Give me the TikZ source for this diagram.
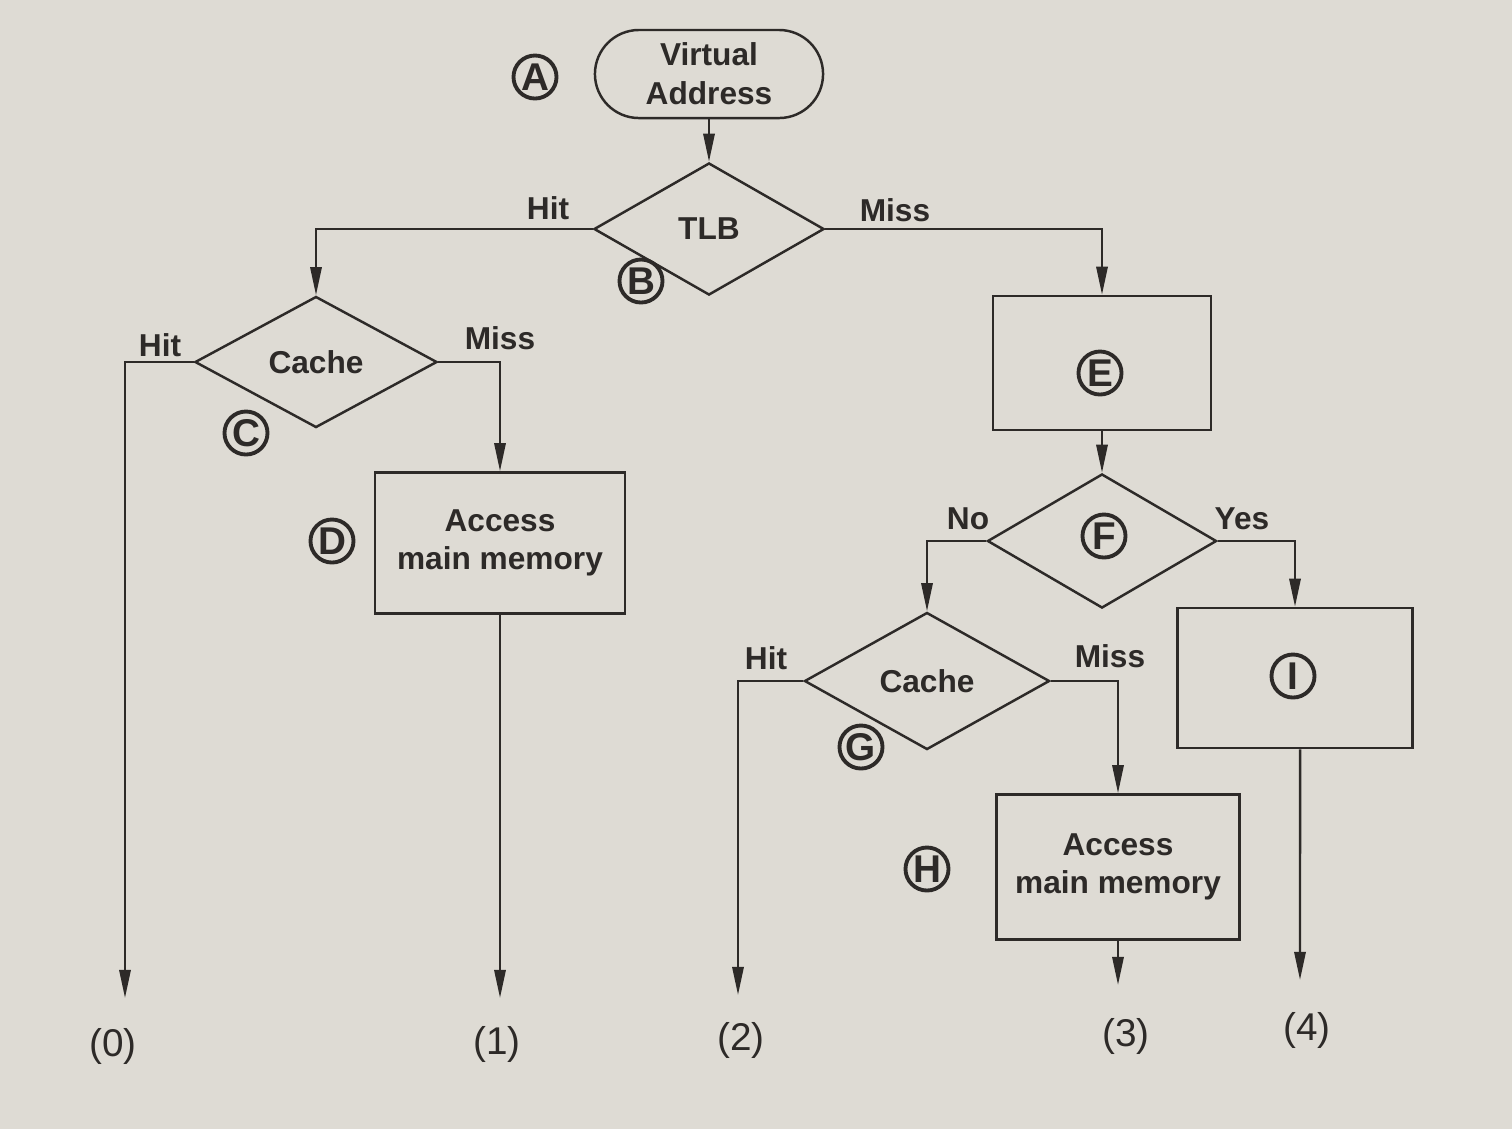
\documentclass[tikz,border=0pt]{standalone}
\usepackage{fontspec}
\setmainfont{Liberation Sans}
\usetikzlibrary{shapes.geometric,arrows.meta}
\definecolor{paper}{RGB}{222,219,212}
\definecolor{ink}{RGB}{45,42,40}
\begin{document}
\begin{tikzpicture}[x=0.01cm,y=-0.01cm,
  box/.style={draw=ink, line width=0.7pt, rectangle, inner sep=0pt},
  dia/.style={draw=ink, line width=0.7pt, diamond, inner sep=0pt},
  txt/.style={font=\bfseries\fontsize{9}{11}\selectfont, text=ink, align=center},
  lbl/.style={font=\bfseries\fontsize{9}{11}\selectfont, text=ink},
  outl/.style={font=\fontsize{11}{12}\selectfont, text=ink},
  circ/.style={circle, draw=ink, line width=1.1pt, minimum size=0.43cm, inner sep=0pt,
               font=\bfseries\fontsize{11}{11}\selectfont, text=ink},
  arr/.style={draw=ink, line width=0.7pt, -{Triangle[length=8pt,width=3.2pt]}}]
\fill[paper] (0,0) rectangle (1512,1129);
\useasboundingbox (0,0) rectangle (1512,1129);

% nodes
\node[box, rounded corners=0.44cm, minimum width=2.28cm, minimum height=0.88cm, txt] (va) at (709,74) {Virtual\\Address};
\node[dia, minimum width=2.30cm, minimum height=1.32cm, txt] (tlb) at (709,229) {TLB};
\node[dia, minimum width=2.42cm, minimum height=1.31cm, txt] (c1) at (316,362) {Cache};
\node[box, minimum width=2.50cm, minimum height=1.41cm, txt] (d) at (500,543) {Access\\main memory};
\node[box, minimum width=2.18cm, minimum height=1.34cm] (e) at (1102,363) {};
\node[dia, minimum width=2.29cm, minimum height=1.34cm] (f) at (1102,541) {};
\node[dia, minimum width=2.45cm, minimum height=1.37cm, txt] (g) at (927,681) {Cache};
\node[box, minimum width=2.43cm, minimum height=1.45cm, txt] (h) at (1118,867) {Access\\main memory};
\node[box, minimum width=2.35cm, minimum height=1.40cm] (i) at (1295,678) {};

% circled letters
\node[circ] (ca) at (535,77) {A};
\node[circ] (cb) at (641,281) {B};
\node[circ] (cc) at (246,433) {C};
\node[circ] (cd) at (332,541) {D};
\node[circ] (ce) at (1100,373) {E};
\node[circ] (cf) at (1104,536) {F};
\node[circ] (cg) at (861,747) {G};
\node[circ] (ch) at (927,869) {H};
\node[circ] (ci) at (1293,676) {I};

% end points
\coordinate (e0) at (125,998);
\coordinate (e1) at (500,998);
\coordinate (e2) at (738,995);
\coordinate (e3) at (1118,985);
\coordinate (e4) at (1300,980);

% connectors
\draw[arr] (va.south) -- (tlb.north);
\draw[arr] (tlb.west) -| (c1.north);
\draw[arr] (tlb.east) -| (e.north);
\draw[arr] (c1.west) -| (e0);
\draw[arr] (c1.east) -| (d.north);
\draw[arr] (d.south) -- (e1);
\draw[arr] (e.south) -- (f.north);
\draw[arr] (f.west) -| (g.north);
\draw[arr] (f.east) -| (i.north);
\draw[arr] (g.west) -| (e2);
\draw[arr] (g.east) -| (h.north);
\draw[arr] (h.south) -- (e3);
\draw[arr] ([xshift=0.05cm]i.south) -- (e4);

% branch labels
\node[lbl] (l1) at (548,208) {Hit};
\node[lbl] (l2) at (895,210) {Miss};
\node[lbl] (l3) at (160,345) {Hit};
\node[lbl] (l4) at (500,338) {Miss};
\node[lbl] (l5) at (968,519) {No};
\node[lbl] (l6) at (1242,519) {Yes};
\node[lbl] (l7) at (766,658) {Hit};
\node[lbl] (l8) at (1110,656) {Miss};

% output labels
\node[outl] (o0) at (113,1046) {(0)};
\node[outl] (o1) at (497,1044) {(1)};
\node[outl] (o2) at (741,1040) {(2)};
\node[outl] (o3) at (1126,1036) {(3)};
\node[outl] (o4) at (1307,1030) {(4)};
\end{tikzpicture}
\end{document}
